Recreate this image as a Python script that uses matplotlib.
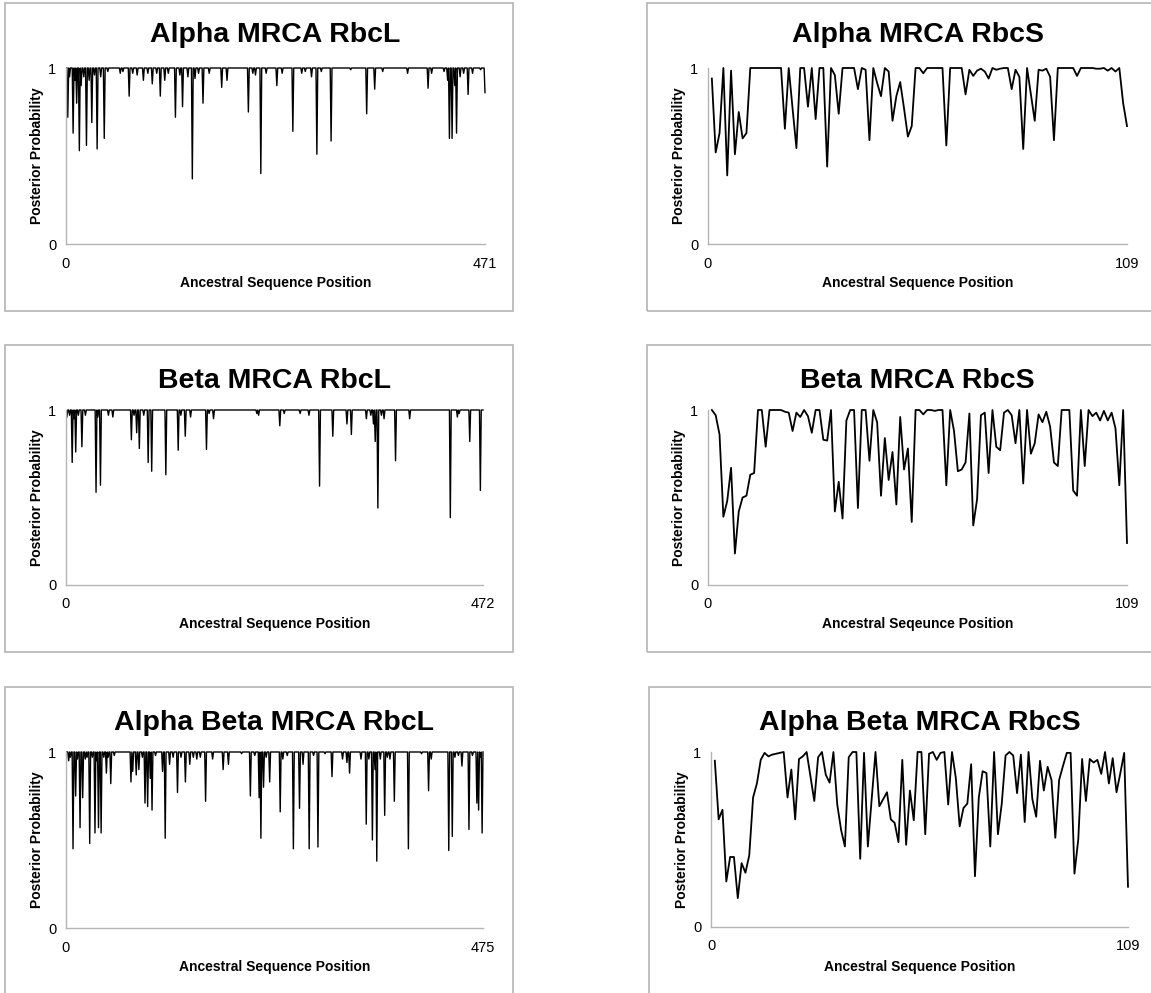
import numpy as np
import matplotlib
matplotlib.use('Agg')
import matplotlib.pyplot as plt
import matplotlib.patches as patches

plt.rcParams['font.family'] = ['Liberation Sans', 'DejaVu Sans']

# --- data: RbcL panels (sites read as dips below 1, all other sites sit at 1) ---
alpha_l_n = 471
alpha_l_pos = [2, 4, 8, 10, 12, 15, 17, 20, 23, 26, 29, 32, 35, 39, 43, 47, 61, 64, 71, 75,
               80, 87, 92, 97, 102, 106, 111, 115, 123, 128, 131, 137, 142, 145, 149, 154, 161, 175, 181, 205,
               210, 213, 219, 225, 237, 243, 255, 265, 269, 276, 282, 287, 298, 320, 338, 347, 356, 384, 407, 411,
               425, 429, 431, 434, 437, 439, 443, 447, 452, 457, 466, 471]
alpha_l_val = [0.72, 0.95, 0.63, 0.93, 0.80, 0.53, 0.90, 0.95, 0.56, 0.93, 0.69, 0.96, 0.54, 0.95, 0.60, 0.98, 0.97, 0.98, 0.84, 0.97,
               0.96, 0.93, 0.97, 0.91, 0.97, 0.84, 0.93, 0.97, 0.72, 0.96, 0.78, 0.95, 0.37, 0.94, 0.97, 0.80, 0.97, 0.89, 0.93, 0.75,
               0.97, 0.96, 0.40, 0.97, 0.90, 0.97, 0.64, 0.97, 0.98, 0.95, 0.51, 0.98, 0.585, 0.99, 0.74, 0.88, 0.98, 0.97, 0.885, 0.97,
               0.98, 0.93, 0.60, 0.60, 0.90, 0.63, 0.95, 0.97, 0.85, 0.97, 0.99, 0.86]

beta_l_n = 472
beta_l_pos = [1, 4, 7, 9, 11, 14, 18, 22, 34, 36, 39, 48, 53, 74, 77, 80, 83, 88, 93, 97,
              113, 127, 130, 135, 141, 159, 162, 167, 216, 218, 242, 247, 265, 275, 287, 302, 318, 323, 340, 345,
              348, 350, 353, 357, 360, 373, 389, 435, 443, 445, 457, 469]
beta_l_val = [0.96, 0.97, 0.70, 0.95, 0.76, 0.97, 0.79, 0.97, 0.53, 0.96, 0.57, 0.97, 0.96, 0.83, 0.97, 0.87, 0.78, 0.97, 0.70, 0.65,
              0.63, 0.77, 0.97, 0.85, 0.96, 0.775, 0.98, 0.95, 0.98, 0.97, 0.91, 0.98, 0.98, 0.97, 0.565, 0.85, 0.92, 0.86, 0.95, 0.97,
              0.92, 0.82, 0.44, 0.97, 0.95, 0.71, 0.95, 0.385, 0.96, 0.98, 0.82, 0.54]

ab_l_n = 475
ab_l_pos = [3, 5, 8, 11, 13, 16, 19, 22, 24, 27, 30, 33, 35, 37, 40, 43, 46, 48, 51, 55,
            74, 76, 80, 83, 87, 90, 93, 96, 98, 102, 110, 113, 118, 122, 127, 131, 136, 141, 145, 149,
            153, 159, 167, 179, 185, 200, 210, 215, 220, 222, 225, 228, 232, 244, 247, 252, 259, 266, 270, 277,
            282, 287, 295, 303, 315, 320, 323, 336, 342, 345, 349, 352, 354, 358, 363, 366, 369, 374, 390, 405,
            413, 416, 436, 440, 443, 447, 451, 459, 463, 468, 470, 472, 474]
ab_l_val = [0.95, 0.97, 0.45, 0.75, 0.96, 0.57, 0.74, 0.96, 0.97, 0.48, 0.97, 0.54, 0.95, 0.57, 0.54, 0.97, 0.88, 0.97, 0.82, 0.98,
            0.83, 0.89, 0.87, 0.90, 0.97, 0.71, 0.69, 0.85, 0.67, 0.98, 0.89, 0.51, 0.93, 0.97, 0.77, 0.97, 0.83, 0.93, 0.97, 0.96,
            0.97, 0.72, 0.96, 0.90, 0.93, 0.99, 0.75, 0.98, 0.74, 0.51, 0.80, 0.97, 0.83, 0.66, 0.96, 0.98, 0.45, 0.68, 0.93, 0.45,
            0.98, 0.46, 0.99, 0.86, 0.96, 0.94, 0.88, 0.96, 0.59, 0.96, 0.50, 0.90, 0.38, 0.96, 0.64, 0.97, 0.96, 0.72, 0.45, 0.99,
            0.78, 0.96, 0.44, 0.52, 0.97, 0.98, 0.92, 0.56, 0.98, 0.71, 0.67, 0.97, 0.54]

# --- data: RbcS panels (positions 1..109) ---
alpha_s = [0.94, 0.52, 0.63, 1.00, 0.39, 0.985, 0.51, 0.75, 0.60, 0.63,
           1.00, 1.00, 1.00, 1.00, 1.00, 1.00, 1.00, 1.00, 1.00, 0.655,
           1.00, 0.77, 0.545, 1.00, 1.00, 0.78, 1.00, 0.71, 1.00, 1.00,
           0.44, 1.00, 0.96, 0.74, 1.00, 1.00, 1.00, 1.00, 0.88, 1.00,
           0.99, 0.59, 1.00, 0.915, 0.84, 1.00, 0.98, 0.70, 0.84, 0.92,
           0.77, 0.61, 0.67, 1.00, 1.00, 0.97, 1.00, 1.00, 1.00, 1.00,
           1.00, 0.56, 1.00, 1.00, 1.00, 1.00, 0.85, 0.99, 0.955, 0.985,
           0.996, 0.98, 0.94, 1.00, 0.99, 0.996, 1.00, 1.00, 0.88, 0.99,
           0.95, 0.54, 1.00, 0.85, 0.70, 0.99, 0.985, 0.996, 0.95, 0.59,
           1.00, 1.00, 1.00, 1.00, 1.00, 0.955, 1.00, 1.00, 1.00, 1.00,
           0.996, 0.996, 1.00, 0.985, 1.00, 0.98, 1.00, 0.80, 0.67]

beta_s = [1.00, 0.97, 0.86, 0.39, 0.48, 0.67, 0.18, 0.42, 0.50, 0.51,
          0.63, 0.64, 1.00, 1.00, 0.79, 1.00, 1.00, 1.00, 1.00, 0.99,
          0.985, 0.88, 0.985, 0.96, 1.00, 0.965, 0.87, 1.00, 1.00, 0.83,
          0.825, 1.00, 0.42, 0.59, 0.38, 0.94, 1.00, 1.00, 0.44, 1.00,
          1.00, 0.71, 1.00, 0.93, 0.51, 0.84, 0.60, 0.76, 0.46, 0.96,
          0.66, 0.78, 0.36, 1.00, 1.00, 0.975, 1.00, 1.00, 0.995, 1.00,
          1.00, 0.57, 1.00, 0.88, 0.65, 0.66, 0.70, 0.98, 0.34, 0.49,
          0.97, 0.985, 0.64, 1.00, 0.79, 0.77, 0.985, 1.00, 0.97, 0.81,
          1.00, 0.58, 1.00, 0.75, 0.81, 0.975, 0.93, 0.99, 0.905, 0.70,
          0.68, 1.00, 1.00, 1.00, 0.54, 0.51, 1.00, 0.68, 1.00, 0.965,
          0.985, 0.94, 0.995, 0.94, 0.985, 0.895, 0.57, 1.00, 0.24]

ab_s = [0.95, 0.615, 0.67, 0.26, 0.40, 0.40, 0.165, 0.365, 0.31, 0.41,
        0.74, 0.82, 0.955, 0.995, 0.975, 0.985, 0.99, 0.995, 1.00, 0.74,
        0.90, 0.615, 0.96, 0.975, 1.00, 0.86, 0.72, 0.97, 1.00, 0.87,
        0.825, 1.00, 0.70, 0.555, 0.46, 0.97, 1.00, 1.00, 0.39, 0.995,
        0.46, 0.73, 1.00, 0.69, 0.73, 0.77, 0.615, 0.595, 0.485, 0.955,
        0.47, 0.78, 0.61, 1.00, 1.00, 0.53, 0.99, 1.00, 0.955, 0.995,
        1.00, 0.70, 1.00, 0.85, 0.575, 0.68, 0.705, 0.93, 0.29, 0.74,
        0.89, 0.88, 0.46, 1.00, 0.53, 0.705, 0.98, 1.00, 0.98, 0.765,
        0.985, 0.60, 1.00, 0.73, 0.63, 0.95, 0.78, 0.915, 0.84, 0.51,
        0.84, 0.92, 0.995, 0.995, 0.305, 0.50, 0.96, 0.72, 0.96, 0.94,
        0.955, 0.875, 1.00, 0.82, 0.965, 0.77, 0.88, 0.995, 0.23]

titles = ['Alpha MRCA RbcL', 'Alpha MRCA RbcS', 'Beta MRCA RbcL', 'Beta MRCA RbcS',
          'Alpha Beta MRCA RbcL', 'Alpha Beta MRCA RbcS']
xlabels = ['Ancestral Sequence Position', 'Ancestral Sequence Position',
           'Ancestral Sequence Position', 'Ancestral Seqeunce Position',
           'Ancestral Sequence Position', 'Ancestral Sequence Position']


def full_series(n, pos, val):
    y = np.ones(n)
    y[np.array(pos) - 1] = val
    return y


series = [full_series(alpha_l_n, alpha_l_pos, alpha_l_val), np.array(alpha_s),
          full_series(beta_l_n, beta_l_pos, beta_l_val), np.array(beta_s),
          full_series(ab_l_n, ab_l_pos, ab_l_val), np.array(ab_s)]
xmax = [alpha_l_n, 109, beta_l_n, 109, ab_l_n, 109]

W, H = 1151, 993
fig = plt.figure(figsize=(W / 100, H / 100), dpi=100)


def fx(x):
    return x / W


def fy(y):
    return 1 - y / H


# panel layout in pixels: frame box, plot box, text rows
frames = [(5, 3, 513, 311), (647, 3, 1160, 311),
          (5, 345, 513, 652), (647, 345, 1160, 652),
          (5, 687, 513, 1000), (649, 687, 1160, 1000)]
plots = [(66, 68, 485, 244), (708, 68, 1127, 244),
         (66, 410, 483, 585), (708, 410, 1127, 585),
         (66, 752, 483, 928), (711, 752, 1128, 927)]
title_y = [35, 35, 381, 381, 723, 723]
xlab_y = [283, 283, 624, 624, 967, 967]

for i in range(6):
    fl, ft, fr, fb = frames[i]
    fig.add_artist(patches.Rectangle((fx(fl), fy(fb)), (fr - fl) / W, (fb - ft) / H,
                                     transform=fig.transFigure, fill=False,
                                     edgecolor='#b4b4b4', linewidth=1.2))
    x0, y0, x1, y1 = plots[i]
    ax = fig.add_axes([fx(x0), fy(y1), (x1 - x0) / W, (y1 - y0) / H])
    y = series[i]
    x = np.arange(1, len(y) + 1)
    lw = 1.0 if xmax[i] > 200 else 1.3
    ax.plot(x, y, color='black', linewidth=lw, clip_on=False)
    ax.set_xlim(0, xmax[i])
    ax.set_ylim(0, 1)
    ax.set_xticks([0, xmax[i]])
    ax.set_xticklabels(['0', str(xmax[i])])
    ax.set_yticks([0, 1])
    ax.set_yticklabels(['0', '1'])
    ax.tick_params(length=0, labelsize=10.5, colors='black')
    ax.tick_params(axis='x', pad=9)
    ax.tick_params(axis='y', pad=7)
    for s in ['top', 'right']:
        ax.spines[s].set_visible(False)
    for s in ['left', 'bottom']:
        ax.spines[s].set_color('#b4b4b4')
        ax.spines[s].set_linewidth(1.0)
    ax.set_facecolor('none')

    cx = (x0 + x1) / 2
    fig.text(fx(cx), fy(title_y[i]), titles[i], ha='center', va='center',
             fontsize=20.5, fontweight='bold')
    fig.text(fx(cx), fy(xlab_y[i]), xlabels[i], ha='center', va='center',
             fontsize=10, fontweight='bold')
    fig.text(fx(x0 - 29), fy((y0 + y1) / 2), 'Posterior Probability', ha='center', va='center',
             rotation=90, fontsize=10, fontweight='bold')

fig.savefig('out.png', dpi=100)
